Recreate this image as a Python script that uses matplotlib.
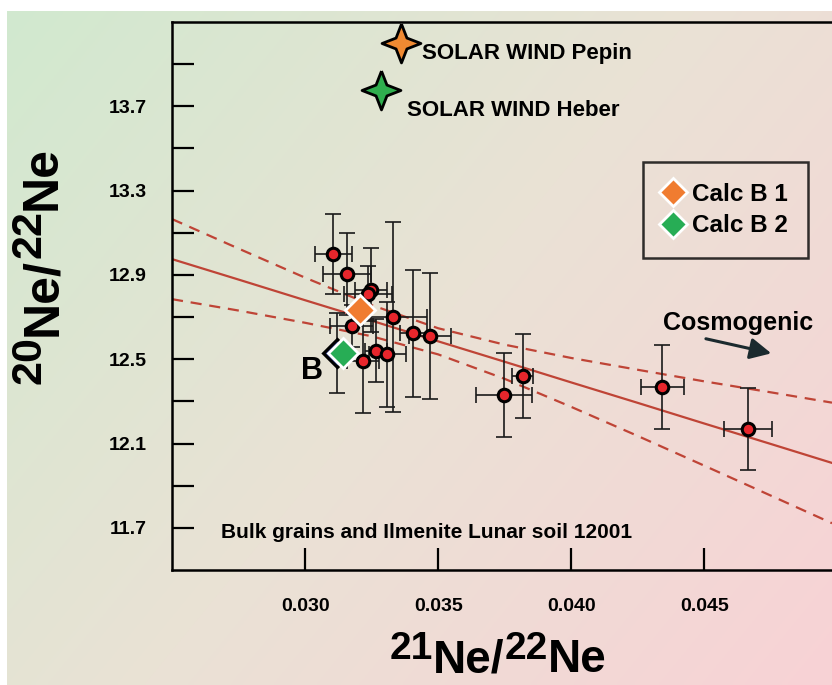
import numpy as np
import matplotlib.pyplot as plt

plt.rcParams['font.family'] = ['Liberation Sans', 'DejaVu Sans']
plt.rcParams['font.weight'] = 'bold'

# measured 21Ne/22Ne vs 20Ne/22Ne (bulk grains and ilmenite, 12001)
ne21 = [0.03106, 0.03159, 0.03247, 0.03238, 0.03330, 0.03175, 0.03407, 0.03470,
        0.03219, 0.03267, 0.03309, 0.03748, 0.03818, 0.04343, 0.04663]
ne20 = [13.00, 12.905, 12.83, 12.81, 12.70, 12.657, 12.623, 12.611,
        12.493, 12.54, 12.523, 12.33, 12.42, 12.367, 12.169]
ne21_err = [0.0007, 0.0009, 0.0006, 0.0009, 0.0013, 0.0008, 0.0005, 0.0008,
            0.0006, 0.0004, 0.0007, 0.00106, 0.0004, 0.0008, 0.0009]
ne20_err = [0.19, 0.195, 0.20, 0.13, 0.45, 0.10, 0.30, 0.30,
            0.25, 0.15, 0.25, 0.20, 0.20, 0.20, 0.196]

# regression line and its envelope
fit_x = [0.025, 0.0275, 0.030, 0.0325, 0.035, 0.0375, 0.040, 0.0425, 0.045, 0.0475, 0.0498]
fit_mid = [12.975, 12.878, 12.780, 12.683, 12.585, 12.488, 12.390, 12.293, 12.195, 12.098, 12.008]
fit_hi = [13.165, 13.025, 12.887, 12.757, 12.647, 12.569, 12.506, 12.450, 12.395, 12.343, 12.294]
fit_lo = [12.785, 12.731, 12.673, 12.609, 12.523, 12.407, 12.274, 12.136, 11.995, 11.853, 11.722]

# solar wind end members
sw_labels = ['SOLAR WIND Pepin', 'SOLAR WIND Heber']
sw_x = [0.03362, 0.03286]
sw_y = [14.00, 13.777]
sw_colors = ['#f08a32', '#2fae4e']

# calculated B components
calc_labels = ['Calc B 1', 'Calc B 2']
calc_x = [0.03207, 0.03142]
calc_y = [12.733, 12.531]
calc_colors = ['#f07c30', '#27ad55']
b_x, b_y, b_err = 0.03120, 12.528, 0.19

yticks = [11.7, 12.1, 12.5, 12.9, 13.3, 13.7]
yminor = [11.9, 12.3, 12.7, 13.1, 13.5, 13.9]
xticks = [0.030, 0.035, 0.040, 0.045]

fig = plt.figure(figsize=(8.32, 6.85), dpi=100)

# gradient backdrop
bg = fig.add_axes([7 / 832, 0, 1 - 7 / 832, 1 - 11 / 685], zorder=0)
gy, gx = np.mgrid[0:1:200j, 0:1:300j]
t = 0.6 * gx + 0.4 * gy
stops = [0, 0.5, 1]
rgb = np.dstack([np.interp(t, stops, [209, 234, 248]),
                 np.interp(t, stops, [233, 226, 210]),
                 np.interp(t, stops, [207, 213, 214])]) / 255
bg.imshow(rgb, aspect='auto')
bg.axis('off')

ax = fig.add_axes([172 / 832, 115 / 685, 660 / 832, 548 / 685], zorder=1)
ax.set_facecolor('none')

red = '#bf4436'
ax.plot(fit_x, fit_mid, color=red, lw=1.6, zorder=2)
ax.plot(fit_x, fit_hi, color=red, lw=1.6, ls=(0, (5, 3.5)), zorder=2)
ax.plot(fit_x, fit_lo, color=red, lw=1.6, ls=(0, (5, 3.5)), zorder=2)

ax.errorbar(ne21, ne20, xerr=ne21_err, yerr=ne20_err, fmt='none', ecolor='#1a1a1a',
            elinewidth=1.2, capsize=6, capthick=1.2, zorder=3)
ax.errorbar([b_x], [b_y], yerr=[b_err], fmt='none', ecolor='#1a1a1a',
            elinewidth=1.2, capsize=6, capthick=1.2, zorder=3)
ax.plot(ne21, ne20, 'o', ms=9, mfc='#e8262c', mec='black', mew=2.2, zorder=4)

# hidden "B" point behind Calc B 2
ax.plot(b_x, b_y, 'D', ms=14, mfc='#2c3680', mec='black', mew=2.2, zorder=5)
handles = []
for cx, cy, c in zip(calc_x, calc_y, calc_colors):
    h, = ax.plot(cx, cy, 'D', ms=15, mfc=c, mec='white', mew=2, zorder=6)
    handles.append(h)
ax.text(0.03026, 12.444, 'B', fontsize=22, ha='center', va='center', zorder=6)

star = [(0, 1), (0.28, 0.28), (1, 0), (0.28, -0.28), (0, -1), (-0.28, -0.28),
        (-1, 0), (-0.28, 0.28), (0, 1)]
for sx, sy, c in zip(sw_x, sw_y, sw_colors):
    ax.plot(sx, sy, marker=star, ms=28, mfc=c, mec='black', mew=2, clip_on=False, zorder=6)
ax.text(0.0344, 13.95, sw_labels[0], fontsize=16, va='center', ha='left')
ax.text(0.03383, 13.68, sw_labels[1], fontsize=16, va='center', ha='left')

ax.text(0.04346, 12.67, 'Cosmogenic', fontsize=18, va='center', ha='left')
ax.annotate('', xy=(0.04762, 12.525), xytext=(0.04496, 12.60),
            arrowprops=dict(arrowstyle='-|>', color='#1b2a2e', lw=2.2, mutation_scale=32))

ax.text(0.02685, 11.68, 'Bulk grains and Ilmenite Lunar soil 12001', fontsize=15,
        va='center', ha='left')

leg = ax.legend(handles, calc_labels, loc='upper left', bbox_to_anchor=(0.7136, 0.7445),
                borderaxespad=0, fontsize=17.5, frameon=True, fancybox=False,
                handlelength=0.8, handletextpad=0.35, labelspacing=0.35, borderpad=0.85,
                markerscale=0.95)
leg.get_frame().set_edgecolor('black')
leg.get_frame().set_facecolor('none')
leg.get_frame().set_linewidth(1.8)

ax.set_xlim(0.025, 0.0498)
ax.set_ylim(11.5, 14.1)
ax.set_xticks(xticks)
ax.set_xticklabels(['%.3f' % v for v in xticks])
ax.set_yticks(yticks)
ax.set_yticks(yminor, minor=True)
ax.set_yticklabels(['%.1f' % v for v in yticks])
ax.tick_params(axis='both', which='both', direction='in', length=16, width=1.6,
               labelsize=14)
ax.tick_params(axis='y', pad=18)
ax.tick_params(axis='x', pad=20)
for side in ['left', 'bottom', 'top']:
    ax.spines[side].set_linewidth(1.8)
ax.spines['right'].set_visible(False)


def chain(x, y, parts, vertical=False):
    # pieces (text, size, rise in points) placed end to end
    last = None
    base = 0
    for txt, size, rise in parts:
        if last is None:
            if vertical:
                last = fig.text(x, y, txt, fontsize=size, rotation=90, ha='right', va='bottom')
            else:
                last = fig.text(x, y, txt, fontsize=size, ha='left', va='bottom')
        else:
            if vertical:
                last = ax.annotate(txt, xy=(1, 1), xycoords=last, xytext=(base - rise, 0),
                                   textcoords='offset points', fontsize=size, rotation=90,
                                   ha='right', va='bottom', annotation_clip=False)
            else:
                last = ax.annotate(txt, xy=(1, 0), xycoords=last, xytext=(0, rise - base),
                                   textcoords='offset points', fontsize=size,
                                   ha='left', va='bottom', annotation_clip=False)
        base = rise
    return last


xl = [('21', 28, 11), ('Ne/', 33, 0), ('22', 28, 11), ('Ne', 33, 0)]
yl = [('20', 31, 12), ('Ne/', 36, 0), ('22', 31, 12), ('Ne', 36, 0)]
chain(0.468, 0.026, xl)
chain(0.059, 0.440, yl, vertical=True)

fig.savefig('out.png', dpi=100)
